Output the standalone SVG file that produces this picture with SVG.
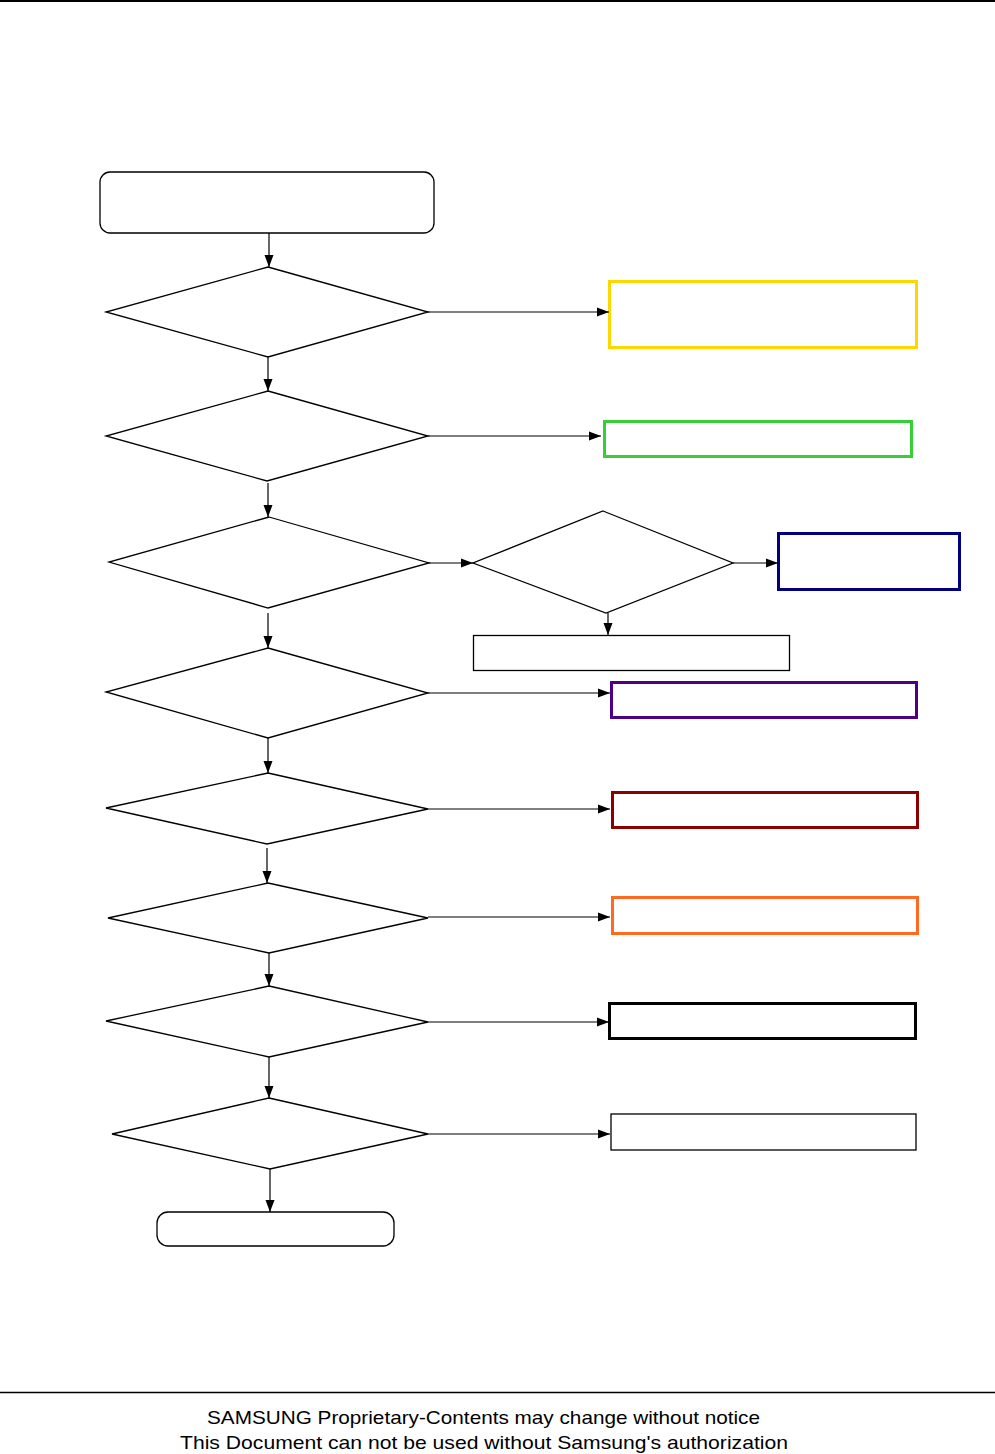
<svg xmlns="http://www.w3.org/2000/svg" width="995" height="1454" viewBox="0 0 995 1454">
<style>
.shape{fill:#fff;stroke:#000;stroke-width:1.3}
.conn{fill:none;stroke:#000;stroke-width:1.2}
.box3{fill:#fff;stroke-width:3}
.foot{font-family:"Liberation Sans",Arial,sans-serif;font-size:19px;fill:#000}
</style>
<defs>
<marker id="ah" viewBox="0 0 12 10" refX="12" refY="5" markerWidth="12" markerHeight="10" markerUnits="userSpaceOnUse" orient="auto">
<path d="M0,0.5 L12,5 L0,9.5 Z" fill="#000"/>
</marker>
</defs>
<rect width="995" height="1454" fill="#fff"/>
<line x1="0" y1="1" x2="995" y2="1" stroke="#000" stroke-width="2"/>
<line x1="0" y1="1392.5" x2="995" y2="1392.5" stroke="#000" stroke-width="1.3"/>

<g id="start"><rect class="shape" x="100" y="172" width="334" height="61" rx="10"/></g>
<g id="d1"><polygon class="shape" points="268,267 428,312 268,357 106,312"/></g>
<g id="d2"><polygon class="shape" points="268,391 428,436 267,481 106,436"/></g>
<g id="d3"><polygon class="shape" points="269,517 429,563 268,608 109,562"/></g>
<g id="d3b"><polygon class="shape" points="603,511 733,563 606,613 473,563"/></g>
<g id="d4"><polygon class="shape" points="268,648 428,693 268,738 106,692"/></g>
<g id="d5"><polygon class="shape" points="268,773 428,809 267,844 106,808"/></g>
<g id="d6"><polygon class="shape" points="268,883 428,918 269,953 108,918"/></g>
<g id="d7"><polygon class="shape" points="269,986 428,1022 269,1057 106,1021"/></g>
<g id="d8"><polygon class="shape" points="269,1098 428,1134 270,1169 112,1134"/></g>
<g id="end"><rect class="shape" x="157" y="1212" width="237" height="34" rx="11"/></g>

<g id="yellow"><rect class="box3" x="609.5" y="281.5" width="307" height="66" stroke="#FFD700"/></g>
<g id="green"><rect class="box3" x="604.5" y="421.5" width="307" height="35" stroke="#36CF36"/></g>
<g id="blue"><rect class="box3" x="778.5" y="533.5" width="181" height="56" stroke="#000080"/></g>
<g id="sub"><rect class="shape" x="473.5" y="635.5" width="316" height="35"/></g>
<g id="purple"><rect class="box3" x="611.5" y="682.5" width="305" height="35" stroke="#4E0085"/></g>
<g id="red"><rect class="box3" x="612.5" y="792.5" width="305" height="35" stroke="#8B0000"/></g>
<g id="orange"><rect class="box3" x="612.5" y="897.5" width="305" height="36" stroke="#FF6A20"/></g>
<g id="black"><rect class="box3" x="609.5" y="1003.5" width="306" height="35" stroke="#000"/></g>
<g id="plain"><rect class="shape" x="611" y="1114" width="305" height="36"/></g>

<g id="connectors">
<line class="conn" x1="269" y1="233" x2="269" y2="267" marker-end="url(#ah)"/>
<line class="conn" x1="268" y1="357" x2="268" y2="391" marker-end="url(#ah)"/>
<line class="conn" x1="268" y1="483" x2="268" y2="517" marker-end="url(#ah)"/>
<line class="conn" x1="268" y1="613" x2="268" y2="648" marker-end="url(#ah)"/>
<line class="conn" x1="268" y1="738" x2="268" y2="773" marker-end="url(#ah)"/>
<line class="conn" x1="267" y1="848" x2="267" y2="883" marker-end="url(#ah)"/>
<line class="conn" x1="269" y1="953" x2="269" y2="986" marker-end="url(#ah)"/>
<line class="conn" x1="269" y1="1057" x2="269" y2="1098" marker-end="url(#ah)"/>
<line class="conn" x1="270" y1="1169" x2="270" y2="1212" marker-end="url(#ah)"/>
<line class="conn" x1="428" y1="312" x2="609" y2="312" marker-end="url(#ah)"/>
<line class="conn" x1="428" y1="436" x2="601" y2="436" marker-end="url(#ah)"/>
<line class="conn" x1="429" y1="563" x2="473" y2="563" marker-end="url(#ah)"/>
<line class="conn" x1="733" y1="563" x2="778" y2="563" marker-end="url(#ah)"/>
<line class="conn" x1="608" y1="613" x2="608" y2="635" marker-end="url(#ah)"/>
<line class="conn" x1="428" y1="693" x2="610" y2="693" marker-end="url(#ah)"/>
<line class="conn" x1="428" y1="809" x2="610" y2="809" marker-end="url(#ah)"/>
<line class="conn" x1="428" y1="917" x2="610" y2="917" marker-end="url(#ah)"/>
<line class="conn" x1="428" y1="1022" x2="609" y2="1022" marker-end="url(#ah)"/>
<line class="conn" x1="428" y1="1134" x2="610" y2="1134" marker-end="url(#ah)"/>
</g>

<text class="foot" x="207" y="1424" textLength="553" lengthAdjust="spacingAndGlyphs">SAMSUNG Proprietary-Contents may change without notice</text>
<text class="foot" x="180" y="1449" textLength="608" lengthAdjust="spacingAndGlyphs">This Document can not be used without Samsung's authorization</text>
</svg>
